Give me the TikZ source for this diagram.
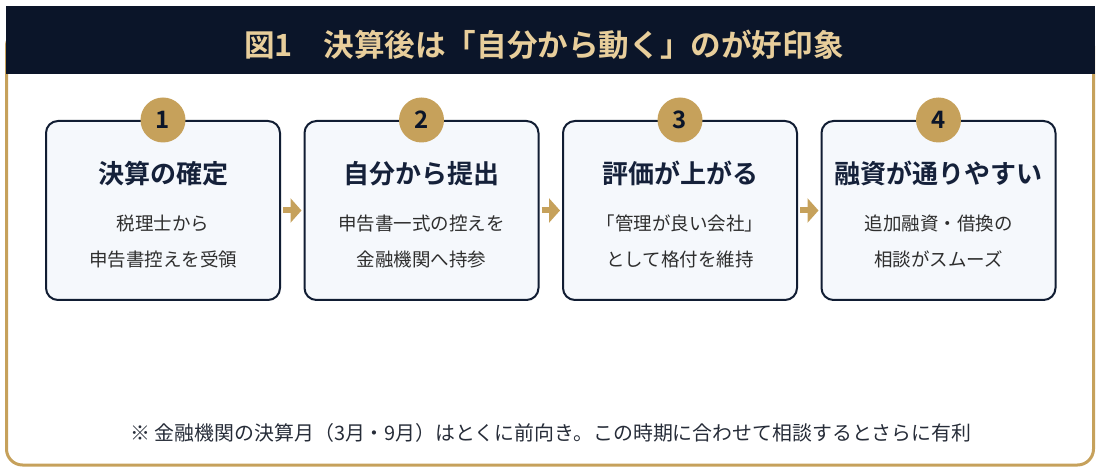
\documentclass[tikz,border=0pt]{standalone}
\usepackage{fontspec}
\setmainfont{Noto Sans CJK JP}[BoldFont={Noto Sans CJK JP Bold}]
\usetikzlibrary{arrows.meta}
\definecolor{navy}{HTML}{0B1529}
\definecolor{gold}{HTML}{C6A15B}
\definecolor{lightgold}{HTML}{E8CE9B}
\definecolor{boxfill}{HTML}{F5F8FC}
\definecolor{boxline}{HTML}{111D33}
\definecolor{bodytext}{HTML}{2E2E2E}
\definecolor{titletext}{HTML}{15213A}
\definecolor{notetext}{HTML}{262C38}
\begin{document}
\begin{tikzpicture}[x=1pt,y=-1pt,
  stepbox/.style={draw=boxline,line width=2pt,fill=boxfill,rounded corners=12pt,minimum width=234pt,minimum height=179pt,inner sep=0pt},
  badge/.style={circle,fill=gold,minimum size=45pt,inner sep=0pt,text=navy,font=\bfseries\fontsize{24}{24}\selectfont},
  boxtitle/.style={anchor=base,text=titletext,font=\bfseries\fontsize{26}{26}\selectfont,inner sep=0pt},
  boxbody/.style={anchor=base,text=bodytext,font=\fontsize{18.5}{18.5}\selectfont,inner sep=0pt},
  flow/.style={draw=gold,line width=6pt,-{Triangle[length=11pt,width=24pt]},shorten <=2pt,shorten >=2pt}]
\useasboundingbox (0,0) rectangle (1100,470);
% frame
\draw[gold,line width=3pt,rounded corners=16pt] (6.5,30) rectangle (1093.5,465);
\fill[navy] (6,6) rectangle (1095,74);
\node[anchor=base,text=lightgold,font=\bfseries\fontsize{30.6}{30.6}\selectfont,inner sep=0pt] (head) at (544,56.5) {図1　決算後は「自分から動く」のが好印象};
% boxes
\node[stepbox] (b1) at (163,210.5) {};
\node[stepbox] (b2) at (421.5,210.5) {};
\node[stepbox] (b3) at (680,210.5) {};
\node[stepbox] (b4) at (938.5,210.5) {};
% badges
\node[badge] (n1) at (b1.north) {1};
\node[badge] (n2) at (b2.north) {2};
\node[badge] (n3) at (b3.north) {3};
\node[badge] (n4) at (b4.north) {4};
% titles
\node[boxtitle] (t1) at (163,184) {決算の確定};
\node[boxtitle] (t2) at (421.5,184) {自分から提出};
\node[boxtitle] (t3) at (680,184) {評価が上がる};
\node[boxtitle] (t4) at (938.5,184) {融資が通りやすい};
% bodies
\node[boxbody] (a1) at (163,231) {税理士から};
\node[boxbody] (c1) at (163,267) {申告書控えを受領};
\node[boxbody] (a2) at (421.5,231) {申告書一式の控えを};
\node[boxbody] (c2) at (421.5,267) {金融機関へ持参};
\node[boxbody] (a3) at (680,231) {「管理が良い会社」};
\node[boxbody] (c3) at (680,267) {として格付を維持};
\node[boxbody] (a4) at (938.5,231) {追加融資・借換の};
\node[boxbody] (c4) at (938.5,267) {相談がスムーズ};
% connectors
\draw[flow] (b1.east) -- (b2.west);
\draw[flow] (b2.east) -- (b3.west);
\draw[flow] (b3.east) -- (b4.west);
% note
\node[anchor=base,text=notetext,font=\fontsize{19.9}{19.9}\selectfont,inner sep=0pt] (note) at (551,440) {※ 金融機関の決算月（3月・9月）はとくに前向き。この時期に合わせて相談するとさらに有利};
\end{tikzpicture}
\end{document}
